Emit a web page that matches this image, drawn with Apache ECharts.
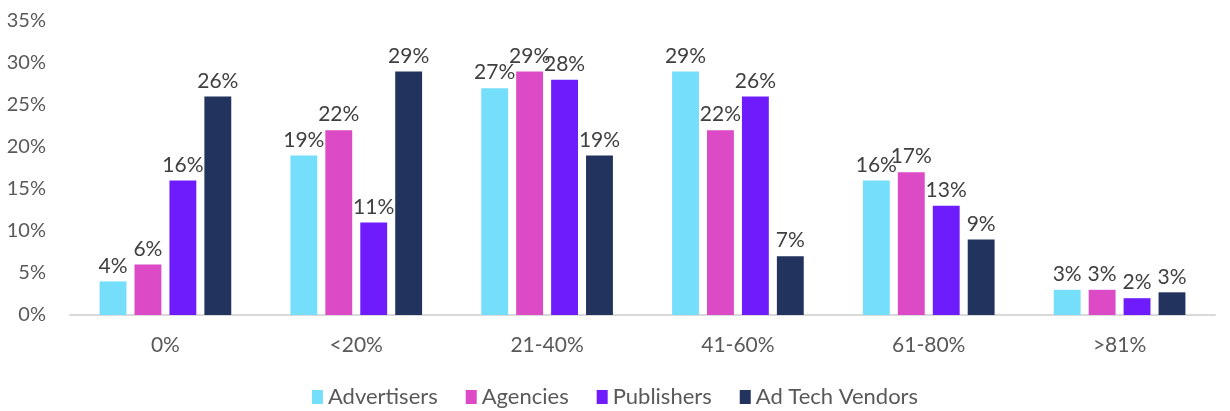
<!DOCTYPE html>
<html>
<head>
<meta charset="utf-8">
<script src="https://cdn.jsdelivr.net/npm/echarts@6/dist/echarts.min.js"></script>
<style>
  html, body { margin: 0; padding: 0; background: #fff; }
  #chart { width: 1230px; height: 411px; }
</style>
</head>
<body>
<div id="chart"></div>
<script>
const categories = ['0%', '<20%', '21-40%', '41-60%', '61-80%', '>81%']
const seriesNames = ['Advertisers', 'Agencies', 'Publishers', 'Ad Tech Vendors']
const advertisers = [4, 19, 27, 29, 16, 3]
const agencies = [6, 22, 29, 22, 17, 3]
const publishers = [16, 11, 28, 26, 13, 2]
const adTechVendors = [26, 29, 19, 7, 9, 2.7]
const yTicks = [0, 5, 10, 15, 20, 25, 30, 35]

const colors = ['#75DFFB', '#DC4AC5', '#6E1CFB', '#22335E']
const font = 'Lato, "Open Sans", sans-serif'

const chart = echarts.init(document.getElementById('chart'))

const makeSeries = (name, data, i) => ({
  name,
  type: 'bar',
  data,
  barGap: '30%',
  barCategoryGap: '31%',
  itemStyle: { color: colors[i] },
  label: {
    show: true,
    position: 'top',
    distance: 5,
    color: '#404040',
    fontFamily: font,
    fontSize: 21,
    formatter: p => Math.round(p.value) + '%',
  },
})

chart.setOption({
  animation: false,
  textStyle: { fontFamily: font },
  grid: { top: 21, right: 15, bottom: 96, left: 70 },
  legend: {
    bottom: -2,
    left: 'center',
    itemWidth: 11,
    itemHeight: 14,
    itemGap: 28,
    icon: 'rect',
    textStyle: { color: '#595959', fontSize: 22, fontFamily: font },
    data: seriesNames,
  },
  xAxis: {
    type: 'category',
    data: categories,
    axisLine: { lineStyle: { color: '#D9D9D9', width: 2 } },
    axisTick: { show: false },
    axisLabel: { color: '#595959', fontSize: 21, fontFamily: font, margin: 20 },
  },
  yAxis: {
    type: 'value',
    min: yTicks[0],
    max: yTicks[yTicks.length - 1],
    interval: 5,
    splitLine: { show: false },
    axisLine: { show: false },
    axisTick: { show: false },
    axisLabel: { color: '#595959', fontSize: 20, fontFamily: font, margin: 24, formatter: '{value}%' },
  },
  series: [
    makeSeries(seriesNames[0], advertisers, 0),
    makeSeries(seriesNames[1], agencies, 1),
    makeSeries(seriesNames[2], publishers, 2),
    makeSeries(seriesNames[3], adTechVendors, 3),
  ],
})
</script>
</body>
</html>
